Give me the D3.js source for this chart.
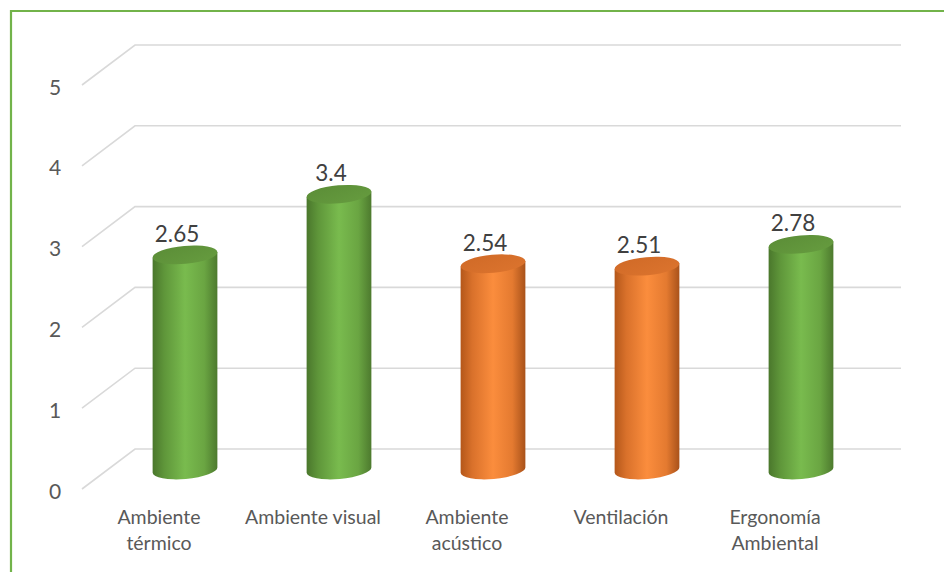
<!DOCTYPE html>
<html>
<head>
<meta charset="utf-8">
<script src="https://cdn.jsdelivr.net/npm/d3@7"></script>
<style>
html,body{margin:0;padding:0;background:#fff;}
svg{display:block;}
</style>
</head>
<body>
<svg id="chart" width="944" height="572"></svg>
<script>
const categories = [["Ambiente","térmico"],["Ambiente visual"],["Ambiente","acústico"],["Ventilación"],["Ergonomía","Ambiental"]];
const values = [2.65, 3.4, 2.54, 2.51, 2.78];
const colorKeys = ["green","green","orange","orange","green"];
const yTicks = [0,1,2,3,4,5];

const svg = d3.select("#chart");
const W = 944, H = 572;

// border
svg.append("path").attr("d", `M11,${H+5} L11,11 L${W+5},11`).attr("fill","none").attr("stroke","#72b34a").attr("stroke-width",2.2);

// 3D geometry
const depthDx = 53, depthDy = -40;
const yBack = d3.scaleLinear().domain([0,5]).range([449,45]);
const yMid = v => yBack(v) - depthDy/2;
const yFront = v => yBack(v) - depthDy;
const xBackStart = 135, xBackEnd = 901, xFront = 82;

const x = d3.scalePoint().domain(d3.range(values.length)).range([108,878]).padding(0.5);

// gridlines
const grid = svg.append("g");
yTicks.forEach(t => {
  grid.append("path")
    .attr("d", `M${xFront},${yFront(t)} L${xBackStart},${yBack(t)} L${xBackEnd},${yBack(t)}`)
    .attr("fill","none").attr("stroke","#d9d9d9").attr("stroke-width",1.6);
});

// tick labels
svg.append("g").selectAll("text").data(yTicks).join("text")
  .attr("x",55).attr("y",d=>yFront(d)+1)
  .attr("text-anchor","middle").attr("dominant-baseline","central")
  .attr("font-family","Lato, 'Open Sans', sans-serif").attr("font-size",21)
  .attr("fill","#595959").text(d=>d);

// gradients
const defs = svg.append("defs");
const palettes = {
  green: {body:["#4a772c","#5f963a","#79bb4e","#6aa542","#4d7a2e"], top:["#5b8d37","#669c3f"]},
  orange:{body:["#b4571a","#d9712b","#fb8d3d","#e47a30","#a9521a"], top:["#d06a27","#dc742e"]}
};
Object.entries(palettes).forEach(([k,p])=>{
  const g = defs.append("linearGradient").attr("id","body-"+k).attr("x1","0%").attr("x2","100%").attr("y1","0%").attr("y2","0%");
  [0,0.18,0.5,0.8,1].forEach((o,i)=>g.append("stop").attr("offset",o).attr("stop-color",p.body[i]));
  const t = defs.append("linearGradient").attr("id","top-"+k).attr("x1","0%").attr("x2","100%").attr("y1","0%").attr("y2","100%");
  t.append("stop").attr("offset",0).attr("stop-color",p.top[0]);
  t.append("stop").attr("offset",1).attr("stop-color",p.top[1]);
});

// cylinders
const rx = 32.5, ry = 9, rot = -5;
const th = rot*Math.PI/180;
const ox = rx*Math.cos(th), oy = rx*Math.sin(th);
const bars = svg.append("g");
values.forEach((v,i)=>{
  const cx = x(i), base = yMid(0)+1, top = yMid(v);
  const k = colorKeys[i];
  bars.append("path")
    .attr("d", `M${cx-ox},${top-oy} L${cx-ox},${base-oy} A${rx},${ry} ${rot} 0 0 ${cx+ox},${base+oy} L${cx+ox},${top+oy} Z`)
    .attr("fill",`url(#body-${k})`);
  bars.append("ellipse").attr("cx",cx).attr("cy",top).attr("rx",rx).attr("ry",ry)
    .attr("transform",`rotate(${rot},${cx},${top})`)
    .attr("fill",`url(#top-${k})`);
  svg.append("text").attr("x",cx-8).attr("y",top-ry-4)
    .attr("text-anchor","middle")
    .attr("font-family","Lato, 'Open Sans', sans-serif").attr("font-size",22.5)
    .attr("fill","#404040").text(v);
});

// category labels
const cat = svg.append("g");
categories.forEach((lines,i)=>{
  const t = cat.append("text").attr("text-anchor","middle")
    .attr("font-family","Lato, 'Open Sans', sans-serif").attr("font-size",19.5)
    .attr("fill","#595959");
  lines.forEach((l,j)=>{
    t.append("tspan").attr("x",x(i)-26).attr("y",524+j*26).text(l);
  });
});
</script>
</body>
</html>
